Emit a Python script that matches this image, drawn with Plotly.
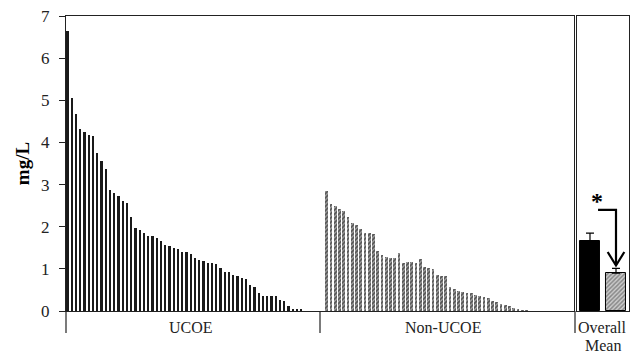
import plotly.graph_objects as go

ucoe_vals = [6.65, 5.05, 4.67, 4.32, 4.24, 4.18, 4.16, 3.76, 3.56, 3.36, 2.87, 2.80, 2.73, 2.60,
             2.57, 2.22, 1.96, 1.92, 1.85, 1.78, 1.77, 1.74, 1.67, 1.57, 1.55, 1.49, 1.47, 1.39,
             1.39, 1.35, 1.25, 1.21, 1.19, 1.15, 1.13, 1.12, 1.03, 0.92, 0.92, 0.85, 0.84, 0.78,
             0.77, 0.61, 0.56, 0.43, 0.35, 0.35, 0.35, 0.35, 0.26, 0.24, 0.13, 0.05, 0.05, 0.05]
non_ucoe_vals = [2.85, 2.54, 2.48, 2.42, 2.37, 2.22, 2.10, 2.04, 1.94, 1.86, 1.84, 1.83, 1.43,
                 1.33, 1.29, 1.25, 1.25, 1.37, 1.15, 1.17, 1.16, 1.13, 1.23, 1.04, 1.01, 1.00,
                 0.86, 0.83, 0.83, 0.56, 0.52, 0.48, 0.46, 0.43, 0.43, 0.38, 0.36, 0.34, 0.30,
                 0.24, 0.22, 0.17, 0.15, 0.12, 0.06, 0.04, 0.02, 0.02]
non_ucoe_start = 61
mean_labels = ["UCOE", "Non-UCOE"]
mean_vals = [1.66, 0.90]
mean_err = [0.19, 0.11]
y_ticks = [0, 1, 2, 3, 4, 5, 6, 7]
group_labels = ["UCOE", "Non-UCOE"]

ucoe_x = list(range(len(ucoe_vals)))
non_x = [non_ucoe_start + i for i in range(len(non_ucoe_vals))]

SERIF = "Liberation Serif, Times New Roman, serif"
fig = go.Figure()

fig.add_trace(go.Bar(x=ucoe_x, y=ucoe_vals, width=0.55, marker=dict(color="#1a1a1a", line=dict(width=0)),
                     xaxis="x", yaxis="y", showlegend=False))
fig.add_trace(go.Bar(x=non_x, y=non_ucoe_vals, width=0.6,
                     marker=dict(color="#999", line=dict(width=0),
                                 pattern=dict(shape="/", fgcolor="#000", bgcolor="#aaa", size=3, solidity=0.6)),
                     xaxis="x", yaxis="y", showlegend=False))
fig.add_trace(go.Bar(x=[0, 1], y=mean_vals, width=0.78,
                     marker=dict(color=["#000000", "#ccc"], line=dict(color="black", width=1),
                                 pattern=dict(shape=["", "/"], fgcolor="#000", bgcolor="#ccc", size=3, solidity=0.5)),
                     error_y=dict(type="data", array=mean_err, arrayminus=[0, 0], symmetric=False,
                                  color="black", thickness=1.2, width=4),
                     xaxis="x2", yaxis="y2", showlegend=False))

axis_line = dict(showline=True, linecolor="#222", linewidth=1, mirror=True, showgrid=False, zeroline=False)

fig.update_layout(
    width=630, height=353,
    margin=dict(l=66, r=1, t=16, b=42, autoexpand=False),
    paper_bgcolor="white", plot_bgcolor="white",
    bargap=0,
    xaxis=dict(domain=[0, 0.9023], range=[-0.35, 119.18], showticklabels=False, ticks="", **axis_line),
    yaxis=dict(range=[0, 7], tickvals=y_ticks, ticks="outside", ticklen=6, tickcolor="#222",
               tickfont=dict(family=SERIF, size=17, color="#222"), ticklabelstandoff=6, automargin=False,
               title=dict(text="<b>mg/L</b>", font=dict(family=SERIF, size=19, color="black"), standoff=6),
               **axis_line),
    xaxis2=dict(domain=[0.9076, 1.0], range=[-0.5, 1.5], anchor="y2", showticklabels=False, ticks="", **axis_line),
    yaxis2=dict(range=[0, 7], anchor="x2", showticklabels=False, ticks="", **axis_line),
    font=dict(family=SERIF, color="#222"),
)

# separators below the axis
tick_y = -22 / 295
for xp in [0, (320 - 66) / 563, (575 - 66) / 563]:
    fig.add_shape(type="line", xref="paper", yref="paper", x0=xp, x1=xp, y0=0, y1=tick_y,
                  line=dict(color="#222", width=1.2))

row1 = -16 / 295
row2 = -34 / 295
lab_font = dict(family=SERIF, size=16, color="#222")
fig.add_annotation(x=(len(ucoe_vals) - 1) / 2 + 1.5, y=row1, xref="x", yref="paper", yanchor="middle",
                   text=group_labels[0], showarrow=False, font=lab_font)
fig.add_annotation(x=88.4, y=row1, xref="x", yref="paper", yanchor="middle",
                   text=group_labels[1], showarrow=False, font=lab_font)
fig.add_annotation(x=0.5, y=row1, xref="x2", yref="paper", yanchor="middle",
                   text="Overall", showarrow=False, font=lab_font)
fig.add_annotation(x=0.5, y=row2, xref="x2", yref="paper", yanchor="middle",
                   text="Mean", showarrow=False, font=lab_font)

# significance bracket arrow
fig.add_shape(type="path", xref="x2", yref="y2",
              path="M 0.31,2.40 L 1.0,2.40 L 1.0,1.1",
              line=dict(color="black", width=2.2))
fig.add_shape(type="path", xref="x2", yref="y2",
              path="M 0.68,1.4 L 1.0,1.08 L 1.32,1.4",
              line=dict(color="black", width=2.2))
fig.add_annotation(x=0.28, y=2.62, xref="x2", yref="y2", text="<b>*</b>", showarrow=False,
                   font=dict(family=SERIF, size=24, color="black"))

fig.write_html("out.html", config={"displayModeBar": False},
               post_script="document.body.style.margin='0';document.body.style.overflow='hidden';")
